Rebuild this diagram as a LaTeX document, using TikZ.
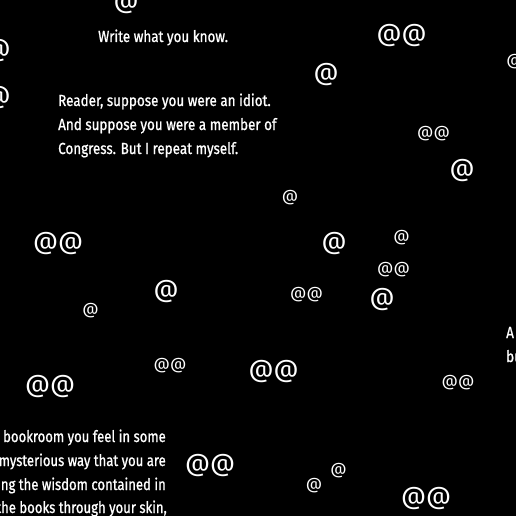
\documentclass[tikz,border=0pt]{standalone}
\usepackage{fontspec}
\newfontfamily\txtfont[FakeStretch=0.84,FakeBold=0.9]{Fira Sans}
\newfontfamily\txtnarrow[FakeStretch=0.82,FakeBold=0.9]{Fira Sans}
\newfontfamily\atfont{Fira Sans}
\tikzset{
  txt/.style={text=white, inner sep=0pt, anchor=base west, font=\txtfont\fontsize{16}{24}\selectfont},
  txtr/.style={txt, anchor=base east, font=\txtnarrow\fontsize{16}{24}\selectfont},
  bigat/.style={text=white, inner sep=0pt, anchor=center, font=\atfont\fontsize{24.5}{25}\selectfont},
  smallat/.style={text=white, inner sep=0pt, anchor=center, font=\atfont\fontsize{16}{16}\selectfont}
}
\begin{document}
\begin{tikzpicture}[x=1pt,y=-1pt]
\useasboundingbox (0,0) rectangle (516,516);
\fill[black] (0,0) rectangle (516,516);
\clip (0,0) rectangle (516,516);
% texts
\node[txt] (t1) at (98,42) {Write what you know.};
\node[txt] (t2) at (58,106) {Reader, suppose you were an idiot.};
\node[txt] (t3) at (58,130) {And suppose you were a member of};
\node[txt] (t4) at (58,154) {Congress. But I repeat myself.};
\node[txtr] (b1) at (166,442) {bookroom you feel in some};
\node[txtr] (b2) at (166,466) {mysterious way that you are};
\node[txtr] (b3) at (166,490) {ng the wisdom contained in};
\node[txtr] (b4) at (167,513) {the books through your skin,};
\node[txt] (r1) at (506,338) {A};
\node[txt] (r2) at (506,362) {bu};
% big @
\node[bigat] (a1) at (126,3) {@};
\node[bigat] (a2) at (-2,51) {@};
\node[bigat] (a3) at (-2,98) {@};
\node[bigat] (a4) at (401.5,36) {@@};
\node[bigat] (a5) at (326,75) {@};
\node[bigat] (a6) at (462,171) {@};
\node[bigat] (a7) at (58,243.5) {@@};
\node[bigat] (a8) at (334,243.5) {@};
\node[bigat] (a9) at (166,291.5) {@};
\node[bigat] (a10) at (382,299.5) {@};
\node[bigat] (a11) at (273.5,371.5) {@@};
\node[bigat] (a12) at (50,387) {@@};
\node[bigat] (a13) at (210,466) {@@};
\node[bigat] (a14) at (426,499) {@@};
% small @
\node[smallat] (s1) at (514.5,62) {@};
\node[smallat] (s2) at (433.5,133.5) {@@};
\node[smallat] (s3) at (290,198) {@};
\node[smallat] (s4) at (401.5,238) {@};
\node[smallat] (s5) at (393.5,270) {@@};
\node[smallat] (s6) at (306.5,294.5) {@@};
\node[smallat] (s7) at (90.5,310.5) {@};
\node[smallat] (s8) at (170,366) {@@};
\node[smallat] (s9) at (458,382.5) {@@};
\node[smallat] (s10) at (338.5,470.5) {@};
\node[smallat] (s11) at (314,485.5) {@};
\end{tikzpicture}
\end{document}
